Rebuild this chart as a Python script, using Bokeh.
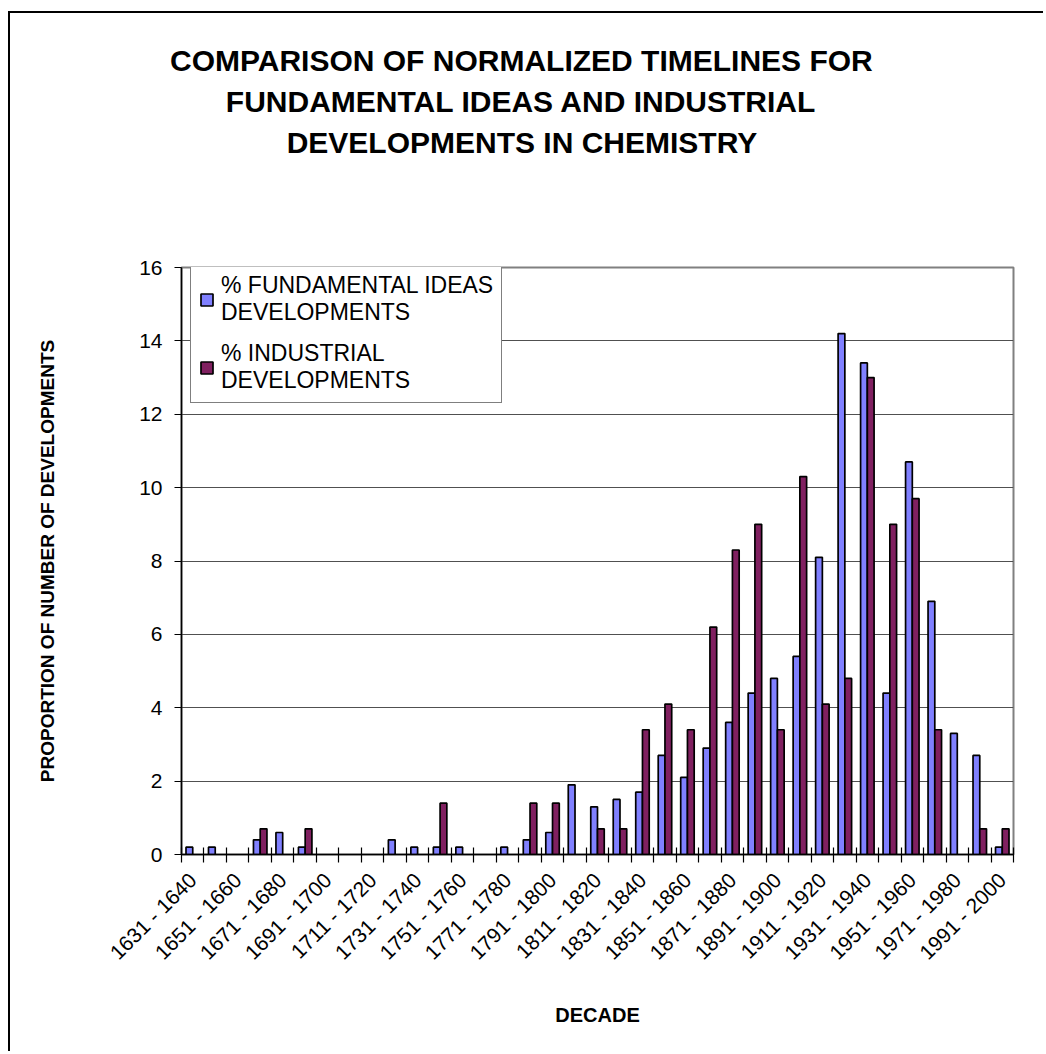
import math
from bokeh.plotting import figure
from bokeh.models import ColumnDataSource, Range1d, FixedTicker, Legend, LegendItem, Title
from bokeh.transform import dodge
from bokeh.embed import file_html
from bokeh.resources import INLINE

decades = [
    "1631 - 1640", "1641 - 1650", "1651 - 1660", "1661 - 1670", "1671 - 1680",
    "1681 - 1690", "1691 - 1700", "1701 - 1710", "1711 - 1720", "1721 - 1730",
    "1731 - 1740", "1741 - 1750", "1751 - 1760", "1761 - 1770", "1771 - 1780",
    "1781 - 1790", "1791 - 1800", "1801 - 1810", "1811 - 1820", "1821 - 1830",
    "1831 - 1840", "1841 - 1850", "1851 - 1860", "1861 - 1870", "1871 - 1880",
    "1881 - 1890", "1891 - 1900", "1901 - 1910", "1911 - 1920", "1921 - 1930",
    "1931 - 1940", "1941 - 1950", "1951 - 1960", "1961 - 1970", "1971 - 1980",
    "1981 - 1990", "1991 - 2000",
]
fundamental = [0.2, 0.2, 0, 0.4, 0.6, 0.2, 0, 0, 0, 0.4, 0.2, 0.2, 0.2, 0, 0.2, 0.4,
               0.6, 1.9, 1.3, 1.5, 1.7, 2.7, 2.1, 2.9, 3.6, 4.4, 4.8, 5.4, 8.1, 14.2,
               13.4, 4.4, 10.7, 6.9, 3.3, 2.7, 0.2]
industrial = [0, 0, 0, 0.7, 0, 0.7, 0, 0, 0, 0, 0, 1.4, 0, 0, 0, 1.4,
              1.4, 0, 0.7, 0.7, 3.4, 4.1, 3.4, 6.2, 8.3, 9.0, 3.4, 10.3, 4.1, 4.8,
              13.0, 9.0, 9.7, 3.4, 0, 0.7, 0.7]
series_names = ["% FUNDAMENTAL IDEAS\nDEVELOPMENTS", "% INDUSTRIAL\nDEVELOPMENTS"]
title_lines = ["COMPARISON OF NORMALIZED TIMELINES FOR",
               "FUNDAMENTAL IDEAS AND INDUSTRIAL",
               "DEVELOPMENTS IN CHEMISTRY"]
y_ticks = [0, 2, 4, 6, 8, 10, 12, 14, 16]

FONT = "Liberation Sans"
F_COLOR = "#8080FF"
I_COLOR = "#802060"
TITLE_PX = 30

# advance widths (1/1000 em) of Liberation Sans Bold (Arial Bold metrics), to centre title lines
BOLD_W = {" ": 278, "A": 722, "B": 722, "C": 722, "D": 722, "E": 667, "F": 611, "G": 778,
          "H": 722, "I": 278, "J": 556, "K": 722, "L": 611, "M": 833, "N": 722, "O": 778,
          "P": 667, "Q": 778, "R": 722, "S": 667, "T": 611, "U": 722, "V": 667, "W": 944,
          "X": 667, "Y": 667, "Z": 611}


def text_width(s, px):
    return sum(BOLD_W.get(ch, 667) for ch in s) * px / 1000.0


n = len(decades)
centers = [i + 0.5 for i in range(n)]


def src(vals):
    keep = [i for i, v in enumerate(vals) if v > 0]
    return ColumnDataSource(dict(x=[centers[i] for i in keep], top=[vals[i] for i in keep]))


p = figure(width=1035, height=1040, output_backend="svg", toolbar_location=None,
           x_range=Range1d(0, n), y_range=Range1d(0, 16),
           min_border_left=171, min_border_right=32, min_border_top=254, min_border_bottom=199)
p.styles = {"border-left": "2px solid black", "border-top": "2px solid black",
            "margin-top": "11px", "margin-left": "8px"}

# title: a spacer next to the plot, then the three lines (first added is nearest the plot)
title_center_from_frame_left = 341
p.title = None
p.add_layout(Title(text=" ", text_font=FONT, text_font_size=f"{TITLE_PX}px", standoff=71), "above")
for line in reversed(title_lines):
    off = title_center_from_frame_left - text_width(line, TITLE_PX) / 2
    p.add_layout(Title(text=line, align="left", offset=off, standoff=6,
                       text_font=FONT, text_font_size=f"{TITLE_PX}px", text_font_style="bold",
                       text_color="black"), "above")

rf = p.vbar(x=dodge("x", -0.15, range=p.x_range), top="top", width=0.3, bottom=0,
            source=src(fundamental), fill_color=F_COLOR, line_color="black", line_width=1.7)
ri = p.vbar(x=dodge("x", 0.15, range=p.x_range), top="top", width=0.3, bottom=0,
            source=src(industrial), fill_color=I_COLOR, line_color="black", line_width=1.7)

legend = Legend(items=[LegendItem(label=series_names[0], renderers=[rf]),
                       LegendItem(label=series_names[1], renderers=[ri])],
                location=(9, 451), label_text_font=FONT, label_text_font_size="23px",
                label_text_color="black",
                glyph_width=15, glyph_height=15, label_standoff=7, spacing=14,
                padding=8, border_line_color="black", border_line_width=1,
                background_fill_color="white", background_fill_alpha=1.0)
p.add_layout(legend)

p.xgrid.visible = False
p.ygrid.ticker = FixedTicker(ticks=y_ticks[1:-1])
p.ygrid.grid_line_color = "#505050"
p.ygrid.grid_line_width = 1

p.outline_line_color = "#808080"
p.outline_line_width = 2

ax = p.yaxis[0]
ax.ticker = FixedTicker(ticks=y_ticks)
ax.axis_line_color = "black"
ax.axis_line_width = 1.5
ax.major_tick_out = 7
ax.major_tick_in = 0
ax.minor_tick_line_color = None
ax.major_label_standoff = 12
ax.major_label_text_font = FONT
ax.major_label_text_font_size = "21px"
ax.major_label_text_color = "black"
ax.axis_label = "PROPORTION OF NUMBER OF DEVELOPMENTS"
ax.axis_label_text_font = FONT
ax.axis_label_text_font_size = "19px"
ax.axis_label_text_font_style = "bold"
ax.axis_label_text_color = "black"
ax.axis_label_standoff = 78

bx = p.xaxis[0]
label_pos = centers[::2]
bx.ticker = FixedTicker(ticks=label_pos, minor_ticks=list(range(n + 1)))
bx.major_label_overrides = {c: decades[i] for i, c in enumerate(centers) if i % 2 == 0}
bx.major_label_orientation = math.pi / 4
bx.major_tick_line_color = None
bx.major_tick_out = 0
bx.major_tick_in = 0
bx.minor_tick_line_color = "black"
bx.minor_tick_out = 8
bx.minor_tick_in = 7
bx.minor_tick_line_width = 1.2
bx.axis_line_color = "black"
bx.axis_line_width = 1.5
bx.major_label_standoff = 14
bx.major_label_text_font = FONT
bx.major_label_text_font_size = "21px"
bx.major_label_text_color = "black"
bx.axis_label = "DECADE"
bx.axis_label_text_font = FONT
bx.axis_label_text_font_size = "20px"
bx.axis_label_text_font_style = "bold"
bx.axis_label_text_color = "black"
bx.axis_label_standoff = 29

open("out.html", "w").write(file_html(p, INLINE))
